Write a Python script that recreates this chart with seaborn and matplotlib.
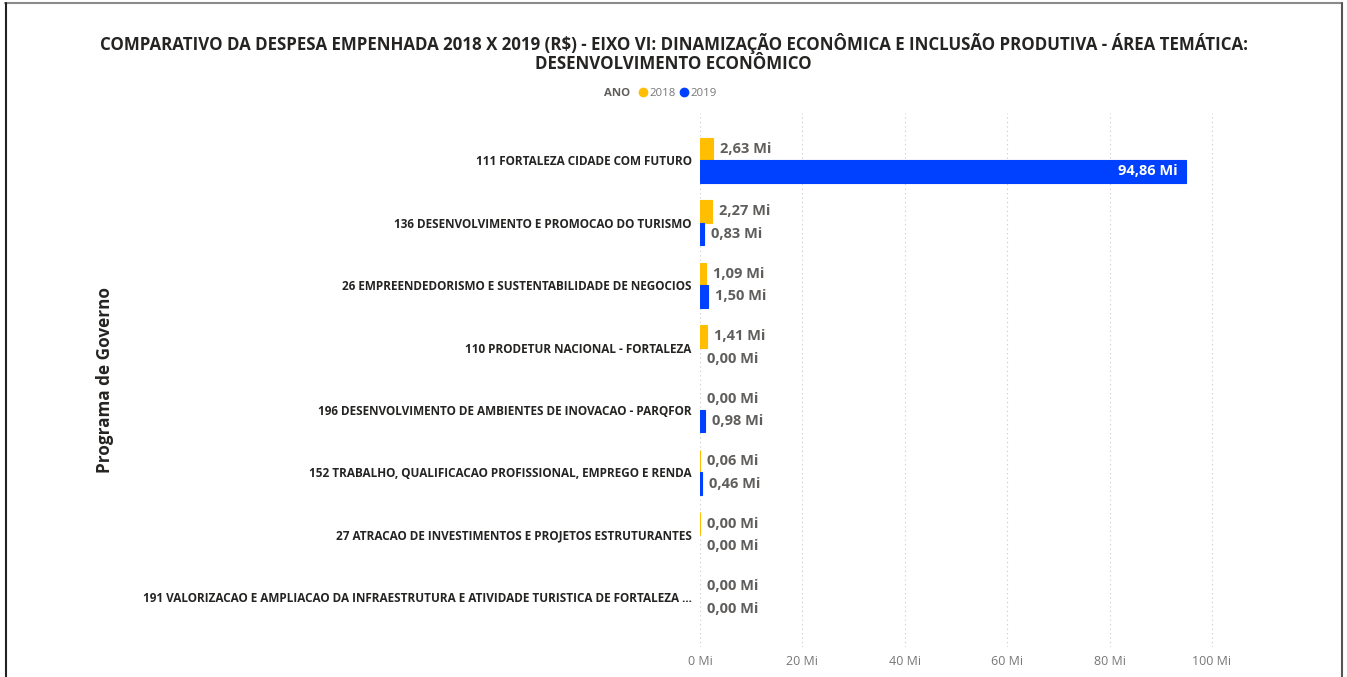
import matplotlib
matplotlib.use("Agg")
import matplotlib.pyplot as plt
import seaborn as sns
import pandas as pd
from matplotlib.ticker import FuncFormatter, FixedLocator
from matplotlib.lines import Line2D

# Programas de governo (eixo VI - Desenvolvimento Econômico)
programas = [
    "111 FORTALEZA CIDADE COM FUTURO",
    "136 DESENVOLVIMENTO E PROMOCAO DO TURISMO",
    "26 EMPREENDEDORISMO E SUSTENTABILIDADE DE NEGOCIOS",
    "110 PRODETUR NACIONAL - FORTALEZA",
    "196 DESENVOLVIMENTO DE AMBIENTES DE INOVACAO - PARQFOR",
    "152 TRABALHO, QUALIFICACAO PROFISSIONAL, EMPREGO E RENDA",
    "27 ATRACAO DE INVESTIMENTOS E PROJETOS ESTRUTURANTES",
    "191 VALORIZACAO E AMPLIACAO DA INFRAESTRUTURA E ATIVIDADE TURISTICA DE FORTALEZA ...",
]
anos = ["2018", "2019"]
# Despesa empenhada em milhões de R$
valores_2018 = [2.63, 2.27, 1.09, 1.41, 0.0, 0.06, 0.004, 0.0]
valores_2019 = [94.86, 0.83, 1.50, 0.0, 0.98, 0.46, 0.0, 0.0]
x_ticks = [0, 20, 40, 60, 80, 100]
cores = {"2018": "#FFBE00", "2019": "#0040FF"}

W, H = 1347, 677

def fx(px):
    return px / W

def fy(py):
    return 1 - py / H

sns.set_theme(style="white")
plt.rcParams["font.family"] = ["Open Sans", "DejaVu Sans"]

df = pd.DataFrame({
    "Programa": programas * 2,
    "Ano": ["2018"] * len(programas) + ["2019"] * len(programas),
    "Valor": valores_2018 + valores_2019,
})

fig = plt.figure(figsize=(W / 100, H / 100), dpi=100)
fig.patch.set_facecolor("white")

ax_left, ax_right, ax_top, ax_bottom = 700, 1237.6, 113, 646.5
ax = fig.add_axes([fx(ax_left), fy(ax_bottom), (ax_right - ax_left) / W, (ax_bottom - ax_top) / H])

sns.barplot(data=df, y="Programa", x="Valor", hue="Ano", order=programas,
            hue_order=anos, palette=cores, width=0.72, orient="h",
            saturation=1, legend=False, ax=ax)

ax.set_xlim(0, 105)
ax.set_ylim(7.5 + 18 / 62.5, -0.5 - 16 / 62.5)
for s in ax.spines.values():
    s.set_visible(False)

ax.xaxis.set_major_locator(FixedLocator(x_ticks))
ax.xaxis.set_major_formatter(FuncFormatter(lambda v, p: f"{v:.0f} Mi"))
ax.grid(axis="x", linestyle=(0, (1, 3)), color="#c8c8c8", linewidth=0.8)
ax.grid(axis="y", visible=False)
ax.set_axisbelow(True)
ax.tick_params(axis="x", length=0, labelsize=9, labelcolor="#777777", pad=6)
ax.tick_params(axis="y", length=0, labelsize=8.5, labelcolor="#252423", pad=6)
for lbl in ax.get_yticklabels():
    lbl.set_fontweight("bold")
ax.set_xlabel("")
ax.set_ylabel("")

# Rótulos de valor
for cont, ano in zip(ax.containers, anos):
    for patch in cont:
        v = patch.get_width()
        if v > 0:
            patch.set_edgecolor(cores[ano])
            patch.set_linewidth(0.8)
        else:
            patch.set_linewidth(0)
        yc = patch.get_y() + patch.get_height() / 2
        txt = f"{v:.2f}".replace(".", ",") + " Mi"
        if v > 50:
            ax.annotate(txt, (v, yc), xytext=(-8, 0), textcoords="offset pixels",
                        ha="right", va="center", fontsize=10.5, fontweight="bold",
                        color="white")
        else:
            ax.annotate(txt, (v, yc), xytext=(7, 0), textcoords="offset pixels",
                        ha="left", va="center", fontsize=10.5, fontweight="bold",
                        color="#605E5C")

# Título
fig.text(0.5, fy(43), "COMPARATIVO DA DESPESA EMPENHADA 2018 X 2019 (R$) - EIXO VI: DINAMIZAÇÃO ECONÔMICA E INCLUSÃO PRODUTIVA - ÁREA TEMÁTICA:",
         ha="center", va="center", fontsize=12.2, fontweight="bold", color="#252423")
fig.text(0.5, fy(64), "DESENVOLVIMENTO ECONÔMICO",
         ha="center", va="center", fontsize=12.2, fontweight="bold", color="#252423")

# Legenda
fig.text(fx(604), fy(93), "ANO", ha="left", va="center", fontsize=8.2,
         fontweight="bold", color="#605E5C")
for xm, xt, ano in [(643, 649, "2018"), (684, 690, "2019")]:
    fig.add_artist(Line2D([fx(xm)], [fy(92)], marker="o", markersize=6,
                          color=cores[ano], linestyle="none", transform=fig.transFigure))
    fig.text(fx(xt), fy(93), ano, ha="left", va="center", fontsize=8.2, color="#777777")

# Título do eixo Y
fig.text(fx(105), fy(380), "Programa de Governo", rotation=90, ha="center",
         va="center", fontsize=12.3, fontweight="bold", color="#252423")

# Moldura
fig.add_artist(Line2D([fx(5), fx(1342)], [fy(3), fy(3)], color="#8a8a8a", lw=1.5,
                      transform=fig.transFigure))
fig.add_artist(Line2D([fx(6), fx(6)], [fy(3), 0], color="#222222", lw=1.5,
                      transform=fig.transFigure))
fig.add_artist(Line2D([fx(1342), fx(1342)], [fy(3), 0], color="#555555", lw=1.5,
                      transform=fig.transFigure))

fig.savefig("out.png", dpi=100, facecolor="white")
